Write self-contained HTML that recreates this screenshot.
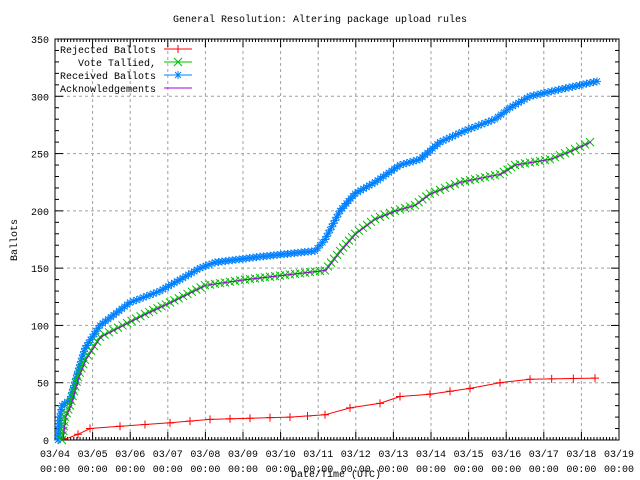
<!DOCTYPE html>
<html><head><meta charset="utf-8"><style>
html,body{margin:0;padding:0;background:#fff}
svg{display:block;font-family:"Liberation Mono","DejaVu Sans Mono",monospace;font-size:10px}
</style></head><body>
<svg id="s" width="640" height="480" xmlns="http://www.w3.org/2000/svg"></svg>
<script>
var s=document.getElementById('s'),h='';
var L=55,R=619,T=39,B=440,dx=(R-L)/15;
function Y(v){return B-v*(B-T)/350;}
for(var i=1;i<15;i++){var x=L+i*dx;h+='<line x1="'+x+'" y1="'+T+'" x2="'+x+'" y2="'+B+'" stroke="#a0a0a0" stroke-dasharray="3,3"/>';}
for(var v=50;v<350;v+=50){h+='<line x1="'+L+'" y1="'+Y(v)+'" x2="'+R+'" y2="'+Y(v)+'" stroke="#a0a0a0" stroke-dasharray="3,3"/>';}
for(var v=0;v<=350;v+=10){var y=Y(v),l=(v%50==0)?8:4;h+='<line x1="'+L+'" y1="'+y+'" x2="'+(L+l)+'" y2="'+y+'" stroke="#000"/><line x1="'+R+'" y1="'+y+'" x2="'+(R-l)+'" y2="'+y+'" stroke="#000"/>';}
for(var i=0;i<=15*12;i++){var x=L+i*dx/12,l=(i%12==0)?8:3;h+='<line x1="'+x+'" y1="'+B+'" x2="'+x+'" y2="'+(B-l)+'" stroke="#000"/><line x1="'+x+'" y1="'+T+'" x2="'+x+'" y2="'+(T+l)+'" stroke="#000"/>';}
h+='<rect x="'+L+'" y="'+T+'" width="'+(R-L)+'" height="'+(B-T)+'" fill="none" stroke="#000"/>';
for(var v=0;v<=350;v+=50)h+='<text x="'+(L-6)+'" y="'+(Y(v)+4)+'" text-anchor="end">'+v+'</text>';
for(var i=0;i<=15;i++){var x=L+i*dx,d=4+i;h+='<text x="'+x+'" y="457" text-anchor="middle">03/'+(d<10?'0'+d:d)+'</text><text x="'+x+'" y="472" text-anchor="middle">00:00</text>';}
h+='<text x="320" y="22" text-anchor="middle">General Resolution: Altering package upload rules</text>';
h+='<text x="336" y="477" text-anchor="middle">Date/Time (UTC)</text>';
h+='<text transform="translate(17,240) rotate(-90)" text-anchor="middle">Ballots</text>';
var blue=[[58,0],[60,20],[62,30],[70,35],[78,60],[85,80],[100,100],[130,120],[160,130],[180,140],[200,150],[215,155],[260,160],[315,165],[325,175],[340,200],[355,215],[375,225],[400,240],[420,245],[440,260],[465,270],[495,280],[510,290],[530,300],[555,305],[597,313]];
var green=[[62,0],[65,20],[70,30],[78,55],[85,70],[100,90],[145,110],[170,120],[205,135],[245,140],[295,145],[325,148],[340,165],[355,180],[375,193],[395,200],[415,205],[430,215],[460,225],[500,232],[515,240],[550,245],[570,252],[590,260]];
var red=[[62,0],[66,1],[78,5],[90,10],[120,12],[170,15],[210,18],[290,20],[325,22],[350,28],[380,32],[400,38],[430,40],[470,45],[500,50],[530,53],[595,54]];
function pts(a){return a.map(function(p){return p[0]+','+Y(p[1]).toFixed(1)}).join(' ');}
function samp(a,step){var o=[];for(var i=0;i<a.length-1;i++){var x1=a[i][0],y1=Y(a[i][1]),x2=a[i+1][0],y2=Y(a[i+1][1]);var d=Math.hypot(x2-x1,y2-y1),n=Math.max(1,Math.round(d/step));for(var k=0;k<n;k++){o.push([x1+(x2-x1)*k/n,y1+(y2-y1)*k/n]);}}o.push([a[a.length-1][0],Y(a[a.length-1][1])]);return o;}
function star(x,y,c){return '<path d="M'+(x-4)+' '+y+'h8M'+x+' '+(y-4)+'v8M'+(x-3)+' '+(y-3)+'l6 6M'+(x-3)+' '+(y+3)+'l6 -6" stroke="'+c+'" fill="none"/>';}
function cross(x,y,c){return '<path d="M'+(x-4)+' '+(y-4)+'l8 8M'+(x-4)+' '+(y+4)+'l8 -8" stroke="'+c+'" fill="none"/>';}
function plus(x,y,c){return '<path d="M'+(x-4)+' '+y+'h8M'+x+' '+(y-4)+'v8" stroke="'+c+'" fill="none"/>';}
h+='<polyline points="'+pts(blue)+'" fill="none" stroke="#0080ff"/>';
samp(blue,3.5).forEach(function(p){h+=star(p[0],p[1],'#0080ff');});
h+='<polyline points="'+pts(green)+'" fill="none" stroke="#00c000"/>';
samp(green,5).forEach(function(p){h+=cross(p[0],p[1],'#00c000');});
h+='<polyline points="'+pts(green.map(function(p){return [p[0]+1,p[1]];}))+'" fill="none" stroke="#a000e0"/>';
h+='<polyline points="'+pts(red)+'" fill="none" stroke="#ff0000"/>';
samp(red,22).forEach(function(p){if(p[0]>70)h+=plus(p[0],p[1],'#ff0000');});
var lg=[['Rejected Ballots','#ff0000',plus],['Vote Tallied,','#00c000',cross],['Received Ballots','#0080ff',star],['Acknowledgements','#a000e0',null]];
lg.forEach(function(e,i){var y=49+i*13;h+='<text x="156" y="'+(y+4)+'" text-anchor="end">'+e[0]+'</text><line x1="164" y1="'+y+'" x2="192" y2="'+y+'" stroke="'+e[1]+'"/>';if(e[2])h+=e[2](178,y,e[1]);});
s.innerHTML=h;
</script>
</body></html>
